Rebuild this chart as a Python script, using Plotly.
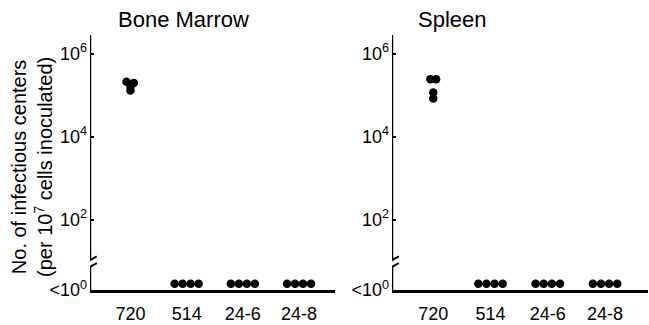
import numpy as np
import plotly.graph_objects as go

# ---------------- data ----------------
categories = ["720", "514", "24-6", "24-8"]
# infectious centers per 10^7 cells; 0 = below detection (<10^0)
bone_marrow = {
    "720": [2.1e5, 1.95e5, 1.6e5, 1.3e5],
    "514": [0, 0, 0, 0],
    "24-6": [0, 0, 0, 0],
    "24-8": [0, 0, 0, 0],
}
spleen = {
    "720": [2.4e5, 2.4e5, 1.15e5, 8.3e4],
    "514": [0, 0, 0, 0],
    "24-6": [0, 0, 0, 0],
    "24-8": [0, 0, 0, 0],
}
panel_titles = ["Bone Marrow", "Spleen"]
ytick_exp = [2, 4, 6]

# ---------------- layout constants ----------------
W, H = 649, 325
ML, MR, MT, MB = 90, 1, 35, 33
Y_BOTTOM, Y_TOP = 0.30, 6.45          # exponent range of the axis
FLOOR_LABEL = Y_BOTTOM                # "<10^0" sits on the baseline
FLOOR_DOT = 0.45                      # undetectable dots rest on the axis
BREAK_LO, BREAK_HI = 0.86, 1.02
XL_RANGE = [-0.72, 3.64]
XR_RANGE = [-0.72, 3.75]
DOT_STEP = 0.142
JITTER_720 = {"bm": [-0.07, 0.06, 0.0, 0.0], "sp": [-0.05, 0.05, 0.0, 0.0]}

plot_w = W - ML - MR
dom_left = [0, (335 - ML) / plot_w]
dom_right = [(392 - ML) / plot_w, 1]


def to_y(v):
    return np.log10(v) if v > 0 else FLOOR_DOT


fig = go.Figure()

for key, data, xa, ya in [("bm", bone_marrow, "x", "y"), ("sp", spleen, "x2", "y2")]:
    xs, ys = [], []
    for ci, cat in enumerate(categories):
        vals = data[cat]
        for i, v in enumerate(vals):
            if v > 0:
                off = JITTER_720[key][i]
            else:
                off = (i - (len(vals) - 1) / 2) * DOT_STEP
            xs.append(ci + off)
            ys.append(to_y(v))
    fig.add_trace(go.Scatter(x=xs, y=ys, mode="markers", xaxis=xa, yaxis=ya,
                             marker=dict(size=8.5, color="black"),
                             showlegend=False, cliponaxis=False))

tickvals_y = [FLOOR_LABEL] + ytick_exp
ticktext_y = ["<10<sup>0</sup>"] + [f"10<sup>{e}</sup>" for e in ytick_exp]

yaxis_common = dict(range=[Y_BOTTOM, Y_TOP], tickvals=tickvals_y, ticktext=ticktext_y,
                    ticks="inside", ticklen=4, tickwidth=2, tickcolor="black",
                    showline=False, showgrid=False, zeroline=False, ticklabelstandoff=2,
                    tickfont=dict(family="Liberation Sans, Arial", size=18, color="black"))
xaxis_common = dict(tickvals=list(range(len(categories))), ticktext=categories,
                    ticks="", showline=True, linewidth=2.5, linecolor="black",
                    showgrid=False, zeroline=False, ticklabelstandoff=6,
                    tickfont=dict(family="Liberation Sans, Arial", size=18, color="black"))

fig.update_layout(
    width=W, height=H, margin=dict(l=ML, r=MR, t=MT, b=MB),
    plot_bgcolor="white", paper_bgcolor="white",
    xaxis=dict(domain=dom_left, range=XL_RANGE, anchor="y", **xaxis_common),
    xaxis2=dict(domain=dom_right, range=XR_RANGE, anchor="y2", **xaxis_common),
    yaxis=dict(anchor="x", **yaxis_common),
    yaxis2=dict(anchor="x2", **yaxis_common),
)

shapes = []
for xref, yref, xr in [("x", "y", XL_RANGE), ("x2", "y2", XR_RANGE)]:
    x0 = xr[0]
    line = dict(color="black", width=2.5)
    shapes.append(dict(type="line", xref=xref, yref=yref, x0=x0, x1=x0,
                       y0=Y_BOTTOM, y1=BREAK_LO, line=line))
    shapes.append(dict(type="line", xref=xref, yref=yref, x0=x0, x1=x0,
                       y0=BREAK_HI, y1=Y_TOP, line=line))
    for e in (BREAK_LO, BREAK_HI):
        shapes.append(dict(type="line", xref=xref, yref=yref,
                           x0=x0 - 0.12, x1=x0 + 0.12, y0=e - 0.09, y1=e + 0.09,
                           line=dict(color="black", width=2)))
fig.update_layout(shapes=shapes)

font_title = dict(family="Liberation Sans, Arial", size=22, color="black")
fig.add_annotation(text=panel_titles[0], xref="paper", yref="paper",
                   x=(183 - ML) / plot_w, y=(H - MB - 19) / (H - MT - MB),
                   showarrow=False, font=font_title, xanchor="center", yanchor="middle")
fig.add_annotation(text=panel_titles[1], xref="paper", yref="paper",
                   x=(452 - ML) / plot_w, y=(H - MB - 19) / (H - MT - MB),
                   showarrow=False, font=font_title, xanchor="center", yanchor="middle")
fig.add_annotation(text="No. of infectious centers<br>(per 10<sup>7</sup> cells inoculated)",
                   xref="paper", yref="paper", textangle=-90,
                   x=(32 - ML) / plot_w, y=(H - MB - 168) / (H - MT - MB),
                   showarrow=False, xanchor="center", yanchor="middle",
                   font=dict(family="Liberation Sans, Arial", size=20, color="black"))

fig.write_html("out.html")
